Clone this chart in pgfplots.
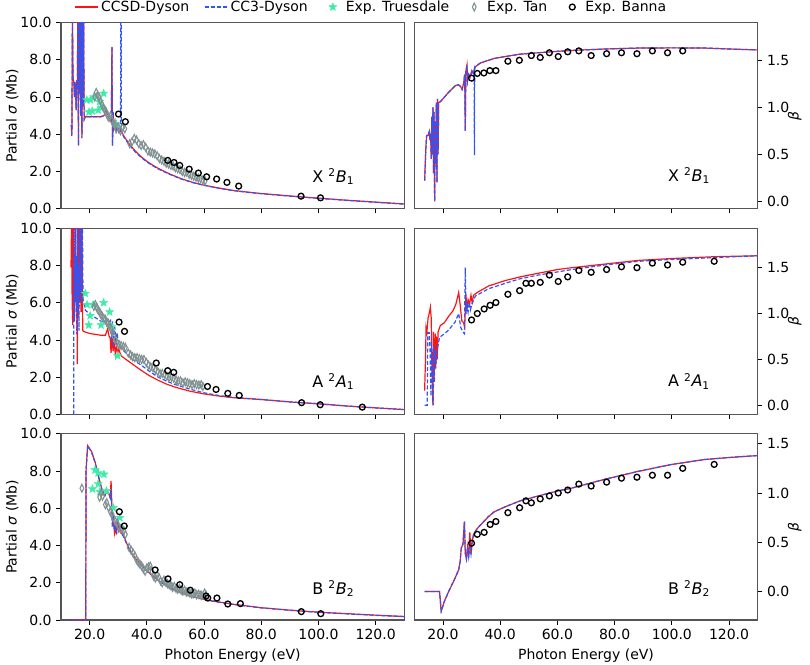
\documentclass[border=0pt]{standalone}
\usepackage{fontspec}
\setmainfont{DejaVu Sans}
\usepackage{pgfplots}
\pgfplotsset{compat=1.18}
\usepgfplotslibrary{groupplots}
\usetikzlibrary{plotmarks}
\definecolor{ccsd}{rgb}{1,0.08,0.08}
\definecolor{cc3}{rgb}{0.2,0.33,0.95}
\definecolor{trues}{RGB}{64,235,170}
\definecolor{tancol}{RGB}{128,145,145}
\definecolor{spine}{RGB}{85,85,85}
\pgfdeclareplotmark{fstar}{%
  \pgfpathmoveto{\pgfqpointpolar{90}{\pgfplotmarksize}}%
  \pgfpathlineto{\pgfqpointpolar{126}{0.42\pgfplotmarksize}}%
  \pgfpathlineto{\pgfqpointpolar{162}{\pgfplotmarksize}}%
  \pgfpathlineto{\pgfqpointpolar{198}{0.42\pgfplotmarksize}}%
  \pgfpathlineto{\pgfqpointpolar{234}{\pgfplotmarksize}}%
  \pgfpathlineto{\pgfqpointpolar{270}{0.42\pgfplotmarksize}}%
  \pgfpathlineto{\pgfqpointpolar{306}{\pgfplotmarksize}}%
  \pgfpathlineto{\pgfqpointpolar{342}{0.42\pgfplotmarksize}}%
  \pgfpathlineto{\pgfqpointpolar{18}{\pgfplotmarksize}}%
  \pgfpathlineto{\pgfqpointpolar{54}{0.42\pgfplotmarksize}}%
  \pgfpathclose
  \pgfusepathqfillstroke}
\pgfplotsset{
  every axis/.append style={font=\fontsize{10.5}{12.6}\selectfont},
  ccsdstyle/.style={ccsd, line width=0.9pt, no marks},
  cc3style/.style={cc3, line width=0.9pt, no marks, dash pattern=on 3pt off 1.6pt},
  mleg/.style={legend image code/.code={%
      \path (0cm,0cm) (0.53cm,0cm);
      \draw[mark repeat=2, mark phase=2, ##1] plot coordinates {(0cm,0cm)(0.265cm,0cm)(0.53cm,0cm)};}},
  truesstyle/.style={only marks, mleg, mark=fstar, mark size=3.2pt, mark options={fill=trues, draw=trues, line width=0.3pt}},
  tanstyle/.style={only marks, mleg, mark=diamond, mark size=3.0pt, mark options={draw=tancol, fill=none, line width=0.8pt, xscale=0.62}},
  bannastyle/.style={only marks, mleg, mark=o, mark size=2.2pt, mark options={draw=black, line width=1pt}},
  leftcol/.style={ymin=0, ymax=10, ytick={0,2,...,10}, ytick pos=left,
    ylabel={Partial \textit{σ} (Mb)},
    ylabel style={at={(axis description cs:-0.142,0.5)}, anchor=center}},
  rightcol/.style={ytick={0,0.5,1,1.5}, ytick pos=right,
    yticklabel pos=right, ylabel={\textit{β}},
    ylabel style={at={(axis description cs:1.108,0.5)}, anchor=center}},
}
\tikzset{panel/.style={font=\fontsize{12}{14}\selectfont}}
\begin{document}
\begin{tikzpicture}
\begin{groupplot}[
  group style={group size=2 by 3, horizontal sep=7.5pt, vertical sep=14.6pt,
    xlabels at=edge bottom, xticklabels at=edge bottom},
  width=257.5pt, height=139.6pt, scale only axis,
  xmin=10, xmax=130, xtick={20,40,...,120},
  tick align=outside, major tick length=3.5pt,
  axis line style={spine, line width=0.8pt},
  tick style={black, line width=0.6pt},
  /pgf/number format/fixed, /pgf/number format/fixed zerofill,
  /pgf/number format/precision=1, /pgf/number format/assume math mode=true,
  xlabel={Photon Energy (eV)},
  xtick pos=left,
  clip=true,
]
% ---------------- Row 1 left: X 2B1 sigma
\nextgroupplot[leftcol,
  legend style={at={(0.905,1.084)}, anchor=center, draw=none, fill=none,
    legend columns=5,
    /tikz/every even column/.append style={column sep=9pt}},
  legend cell align=left]
\coordinate (tl) at (rel axis cs:0,1);
\addplot[ccsdstyle] coordinates {(13.6,4.5)(13.8,3.9)(14.0,10.5)(14.2,7.0)(14.5,6.8)(14.7,6.0)(14.9,6.8)(15.1,6.3)(15.3,5.3)(15.5,6.9)(15.7,6.4)(15.9,10.5)(16.1,3.4)(16.3,10.5)(16.5,6.2)(16.7,10.5)(16.9,5.0)(17.1,10.5)(17.3,3.8)(17.5,10.5)(17.7,5.5)(17.9,10.5)(18.1,4.8)(18.5,4.95)(20,4.95)(22,4.95)(24,4.95)(25,5.0)(25.8,5.3)(26.3,5.1)(27,4.9)(27.6,4.7)(27.8,8.7)(28.0,3.4)(28.2,5.2)(28.5,4.4)(28.9,4.7)(29.3,4.2)(29.8,4.5)(30.3,4.1)(31,4.2)(32,3.9)(34,3.45)(36,3.1)(38,2.8)(40,2.55)(42,2.35)(44,2.17)(48,1.87)(52,1.62)(56,1.42)(60,1.27)(65,1.12)(70,0.99)(75,0.9)(80,0.82)(90,0.69)(100,0.57)(110,0.46)(120,0.36)(130,0.26)};
\addlegendentry{CCSD-Dyson}
\addplot[cc3style] coordinates {(13.6,4.5)(13.8,3.9)(14.0,10.5)(14.2,7.0)(14.5,6.8)(14.7,6.0)(14.9,6.8)(15.1,6.3)(15.3,5.3)(15.5,6.9)(15.7,6.4)(15.9,10.5)(16.1,3.4)(16.3,10.5)(16.5,6.2)(16.7,10.5)(16.9,5.0)(17.1,10.5)(17.3,3.8)(17.5,10.5)(17.7,5.5)(17.9,10.5)(18.1,4.8)(18.5,4.95)(20,4.95)(22,4.95)(24,4.95)(25,5.0)(25.8,5.3)(26.3,5.1)(27,4.9)(27.6,4.7)(27.8,8.7)(28.0,3.4)(28.2,5.2)(28.5,4.4)(28.9,4.7)(29.3,4.2)(29.8,4.5)(30.3,4.1)(30.8,4.2)(30.9,10.5)(31.05,10.5)(31.1,4.1)(32,3.85)(34,3.4)(36,3.05)(38,2.76)(40,2.52)(42,2.32)(44,2.14)(48,1.85)(52,1.6)(56,1.41)(60,1.26)(65,1.11)(70,0.98)(75,0.89)(80,0.81)(90,0.68)(100,0.56)(110,0.45)(120,0.35)(130,0.25)};
\addlegendentry{CC3-Dyson}
\addplot[truesstyle] coordinates {(19.0,5.85)(19.8,5.2)(20.3,5.85)(20.9,5.25)(21.4,6.0)(23.0,5.3)(23.5,5.75)(24.1,5.45)(24.9,6.2)(29.3,4.55)};
\addlegendentry{Exp. Truesdale}
\addplot[tanstyle] coordinates {(21.8,6.0)(22.3,6.25)(22.8,6.1)(23.3,6.0)(23.8,5.8)(24.3,5.6)(24.8,5.45)(25.3,5.3)(25.8,5.2)(26.3,5.0)(26.8,4.9)(27.3,5.0)(27.8,4.75)(28.3,4.6)(28.8,4.5)(29.3,4.3)(30.0,4.4)(30.8,4.2)(31.5,4.35)(32.3,4.3)(34.0,3.5)(34.8,3.6)(35.6,3.78)(36.4,3.7)(37.2,3.5)(38.0,3.4)(38.8,3.45)(39.6,3.3)(40.4,3.1)(41.2,3.05)(42.0,3.0)(42.8,2.95)(43.6,2.85)(44.4,2.7)(45.2,2.62)(46.0,2.55)(46.8,2.45)(47.6,2.4)(48.4,2.33)(49.2,2.3)(50.0,2.2)(50.8,2.15)(51.6,2.1)(52.4,2.0)(53.2,1.95)(54.0,1.95)(54.8,1.85)(55.6,1.8)(56.4,1.75)(57.2,1.7)(58.0,1.65)(58.8,1.62)(59.6,1.55)(60.4,1.5)};
\addlegendentry{Exp. Tan}
\addplot[bannastyle] coordinates {(30.1,5.09)(32.5,4.68)(47.3,2.60)(49.5,2.49)(51.5,2.33)(54.8,2.13)(58.0,1.92)(60.9,1.72)(64.4,1.60)(68.0,1.42)(72.1,1.22)(93.9,0.68)(100.7,0.59)};
\addlegendentry{Exp. Banna}
\node[panel] at (rel axis cs:0.793,0.172) {X \textsuperscript{2}\textit{B}\textsubscript{1}};
% ---------------- Row 1 right: X 2B1 beta
\nextgroupplot[rightcol, ymin=-0.08, ymax=1.9]
\addplot[ccsdstyle] coordinates {(13.6,0.22)(13.7,0.30)(14.0,0.55)(14.3,0.70)(14.8,0.70)(15.2,0.74)(15.5,0.65)(15.7,0.72)(15.9,0.45)(16.1,0.90)(16.3,0.5)(16.5,1.0)(16.7,0.3)(16.9,0.95)(17.1,0.0)(17.3,0.85)(17.5,0.4)(17.7,1.05)(17.9,0.2)(18.1,1.09)(18.3,0.5)(18.5,1.05)(19.1,1.06)(20,1.09)(22,1.16)(24.3,1.23)(25.4,1.24)(26.2,1.22)(26.7,1.19)(27.2,1.25)(27.6,1.35)(27.8,0.75)(28.0,1.38)(28.4,1.45)(28.6,1.28)(29,1.35)(29.5,1.32)(30.1,1.39)(30.6,1.36)(31.3,1.43)(33,1.47)(35.9,1.5)(38,1.52)(41.8,1.54)(47,1.565)(53.4,1.58)(60,1.595)(65.1,1.605)(76.7,1.62)(88.3,1.63)(100,1.632)(111.6,1.63)(120,1.62)(130,1.61)};
\addplot[cc3style] coordinates {(13.6,0.22)(13.7,0.30)(14.0,0.55)(14.3,0.70)(14.8,0.70)(15.2,0.74)(15.5,0.65)(15.7,0.72)(15.9,0.45)(16.1,0.90)(16.3,0.5)(16.5,1.0)(16.7,0.3)(16.9,0.95)(17.1,0.0)(17.3,0.85)(17.5,0.4)(17.7,1.05)(17.9,0.2)(18.1,1.09)(18.3,0.5)(18.5,1.05)(19.1,1.06)(20,1.09)(22,1.16)(24.3,1.23)(25.4,1.24)(26.2,1.22)(26.7,1.19)(27.2,1.25)(27.6,1.35)(27.8,0.75)(28.0,1.38)(28.4,1.45)(28.6,1.28)(29,1.35)(29.5,1.32)(30.1,1.39)(30.6,1.36)(30.9,1.40)(31.0,0.49)(31.1,1.42)(31.3,1.43)(33,1.47)(35.9,1.5)(38,1.52)(41.8,1.54)(47,1.565)(53.4,1.58)(60,1.595)(65.1,1.605)(76.7,1.62)(88.3,1.63)(100,1.632)(111.6,1.63)(120,1.62)(130,1.61)};
\addplot[bannastyle] coordinates {(30.0,1.31)(32.0,1.36)(34.3,1.365)(36.4,1.39)(38.5,1.39)(42.7,1.49)(46.7,1.50)(50.9,1.55)(54.0,1.53)(57.2,1.58)(60.3,1.54)(63.6,1.59)(67.5,1.60)(71.8,1.55)(77.2,1.57)(82.4,1.58)(87.8,1.57)(93.2,1.60)(98.5,1.58)(103.8,1.60)};
\node[panel] at (rel axis cs:0.80,0.177) {X \textsuperscript{2}\textit{B}\textsubscript{1}};
% ---------------- Row 2 left: A 2A1 sigma
\nextgroupplot[leftcol]
\addplot[ccsdstyle] coordinates {(13.5,7.9)(13.7,10.5)(13.9,6.0)(14.1,4.8)(14.3,10.5)(14.5,5.0)(14.7,7.5)(14.9,6.3)(15.1,10.5)(15.3,5.5)(15.5,8.0)(15.7,2.7)(15.9,10.5)(16.1,5.2)(16.3,10.5)(16.5,6.0)(16.8,10.5)(17.0,5.5)(17.3,10.5)(17.6,4.5)(18,4.45)(20,4.35)(22,4.3)(24,4.25)(25.5,4.25)(26.3,4.6)(26.8,4.2)(27.2,4.1)(27.5,3.3)(27.8,4.2)(28.2,3.4)(28.6,3.9)(29.0,3.2)(29.4,3.7)(29.8,3.3)(30.2,3.5)(31,3.15)(32.3,3.0)(35,2.7)(38,2.37)(41,2.07)(44,1.83)(47,1.62)(50,1.46)(55,1.25)(60,1.1)(65,0.99)(70,0.9)(80,0.8)(90,0.67)(100,0.57)(110,0.45)(120,0.35)(130,0.26)};
\addplot[cc3style] coordinates {(14.45,0)(14.5,10.5)(14.7,5.0)(14.9,10.5)(15.1,6.0)(15.3,8.5)(15.5,4.3)(15.7,10.5)(15.9,5.5)(16.1,8.0)(16.3,4.5)(16.5,10.5)(16.7,6.5)(17.0,10.5)(17.2,6.0)(17.5,10.5)(17.7,6.2)(18.5,5.6)(20,5.4)(22,5.2)(24,5.0)(25.5,4.95)(26.3,5.2)(26.8,4.6)(27.3,5.1)(27.6,4.0)(28,5.0)(28.4,3.6)(28.8,4.7)(29.2,3.8)(29.6,4.4)(30.2,3.7)(31.1,3.55)(33,3.25)(35,2.95)(38.2,2.63)(41,2.3)(44,2.0)(47,1.78)(50,1.6)(55,1.36)(60,1.16)(65,1.02)(70,0.92)(80,0.8)(90,0.67)(100,0.57)(110,0.45)(120,0.35)(130,0.26)};
\addplot[truesstyle] coordinates {(18.5,6.5)(19.1,5.9)(19.7,4.8)(20.2,5.3)(21.2,5.9)(24.0,4.8)(24.9,6.0)(27.0,5.5)(27.8,4.7)(29.8,3.15)};
\addplot[tanstyle] coordinates {(21.5,5.8)(22.0,5.9)(22.5,5.75)(23.0,5.6)(23.5,5.5)(24.0,5.35)(24.5,5.25)(25.0,5.15)(25.5,5.1)(26.0,4.95)(26.5,4.9)(27.0,4.75)(27.5,4.6)(28.0,4.4)(28.5,4.2)(29.0,4.0)(29.6,3.85)(30.3,3.75)(31.0,3.7)(31.8,3.65)(32.5,3.6)(33.5,3.3)(34.3,3.2)(35.0,3.1)(35.8,3.05)(36.6,3.05)(37.4,3.0)(38.2,2.95)(39.0,2.95)(39.8,2.8)(40.6,2.65)(41.4,2.55)(42.2,2.5)(43.0,2.4)(43.8,2.3)(44.6,2.2)(45.4,2.2)(46.2,2.15)(47.0,2.05)(47.8,2.0)(48.6,2.0)(49.4,1.95)(50.2,1.85)(51.0,1.8)(51.8,1.8)(52.6,1.7)(53.4,1.75)(54.2,1.7)(55.0,1.65)(55.8,1.6)(56.6,1.65)(57.4,1.6)(58.2,1.58)(59.0,1.6)(59.6,1.5)};
\addplot[bannastyle] coordinates {(30.3,4.96)(32.2,4.46)(43.3,2.76)(47.3,2.35)(49.4,2.26)(61.2,1.5)(64.2,1.34)(68.3,1.13)(72.3,1.02)(94.1,0.63)(100.6,0.52)(115.3,0.39)};
\node[panel] at (rel axis cs:0.793,0.176) {A \textsuperscript{2}\textit{A}\textsubscript{1}};
% ---------------- Row 2 right: A 2A1 beta
\nextgroupplot[rightcol, ymin=-0.1, ymax=1.93]
\addplot[ccsdstyle] coordinates {(13.6,0.16)(13.9,0.5)(14.1,0.85)(14.4,0.80)(14.8,0.95)(15.2,1.0)(15.6,1.07)(15.9,0.95)(16.1,0.5)(16.3,0.2)(16.5,0.0)(16.7,0.8)(16.9,0.3)(17.1,0.55)(17.3,0.78)(17.5,0.4)(17.7,0.75)(18.0,0.5)(18.3,0.8)(19.1,0.87)(20.5,0.9)(22,0.97)(23.5,1.03)(24.5,1.1)(25.5,1.23)(26.0,1.1)(26.6,0.92)(27.2,0.9)(27.6,0.85)(28.0,1.21)(28.4,1.05)(28.8,1.15)(29.3,1.1)(29.8,1.2)(30.2,1.12)(30.7,1.2)(32,1.23)(35.9,1.30)(41.8,1.36)(47,1.40)(53.4,1.44)(60,1.48)(65.1,1.50)(76.7,1.54)(88.4,1.58)(100,1.60)(115,1.62)(130,1.63)};
\addplot[cc3style] coordinates {(13.6,0.0)(14.5,0.0)(14.7,0.79)(15.2,0.79)(15.5,0.6)(15.8,0.1)(16.0,0.7)(16.3,0.3)(16.6,0.0)(16.8,0.65)(17.0,0.25)(17.3,0.6)(17.6,0.45)(18.0,0.6)(18.8,0.74)(20.5,0.78)(22,0.82)(24.3,0.91)(25.5,1.0)(26.2,0.85)(27.0,0.8)(27.5,0.78)(27.8,1.5)(28.1,1.0)(28.5,1.1)(28.8,1.02)(29.2,1.12)(29.6,1.04)(30.1,1.1)(31.3,1.19)(35.9,1.27)(41.8,1.33)(47,1.38)(53.4,1.42)(65.1,1.48)(76.7,1.53)(88.4,1.57)(100,1.59)(115,1.61)(130,1.63)};
\addplot[bannastyle] coordinates {(30,0.93)(32,1.0)(34.4,1.05)(36.5,1.09)(38.5,1.12)(42.7,1.21)(46.8,1.25)(49.0,1.33)(50.9,1.33)(54.0,1.34)(57.2,1.42)(60.3,1.35)(63.6,1.40)(67.5,1.47)(71.8,1.45)(77.2,1.48)(82.4,1.51)(87.8,1.50)(93.2,1.55)(98.5,1.53)(103.8,1.56)(114.8,1.57)};
\node[panel] at (rel axis cs:0.80,0.178) {A \textsuperscript{2}\textit{A}\textsubscript{1}};
% ---------------- Row 3 left: B 2B2 sigma
\nextgroupplot[leftcol]
\addplot[ccsdstyle] coordinates {(13.6,0)(18.65,0)(18.75,8.0)(19.3,9.37)(20,9.2)(20.7,9.05)(21.9,8.5)(23.0,7.79)(24.2,7.07)(25.3,6.7)(26.0,6.9)(26.5,6.85)(27.2,6.6)(27.5,7.47)(27.9,5.64)(28.3,5.3)(28.7,4.7)(29.0,5.1)(29.3,4.6)(29.7,5.3)(30.1,4.8)(30.5,5.0)(31,4.7)(31.8,4.56)(33.5,3.93)(35,3.5)(37,3.12)(40.5,2.58)(44,2.14)(47,1.83)(49.9,1.6)(55.7,1.28)(61.5,1.06)(65,0.97)(70,0.85)(80,0.66)(90,0.53)(100,0.42)(110,0.34)(120,0.26)(130,0.19)};
\addplot[cc3style] coordinates {(13.6,0)(18.65,0)(18.75,8.0)(19.3,9.35)(20,9.2)(20.7,9.0)(21.9,8.45)(23.0,7.75)(24.2,7.05)(25.3,6.65)(26.0,6.85)(26.5,6.8)(27.2,6.55)(27.5,7.0)(27.9,5.0)(28.3,5.6)(28.7,4.8)(29.1,5.0)(29.5,4.7)(30.0,5.2)(30.5,4.8)(31,4.65)(31.8,4.5)(33.5,3.9)(35,3.47)(37,3.1)(40.5,2.55)(44,2.12)(47,1.81)(49.9,1.58)(55.7,1.27)(61.5,1.05)(65,0.96)(70,0.84)(80,0.65)(90,0.52)(100,0.41)(110,0.33)(120,0.25)(130,0.18)};
\addplot[truesstyle] coordinates {(21.0,7.04)(21.9,8.06)(23.0,7.31)(23.0,7.9)(23.6,6.89)(25.0,7.83)(25.9,6.93)(28.3,6.03)(30.6,5.49)};
\addplot[tanstyle] coordinates {(17.3,7.08)(23.5,6.6)(24.0,6.8)(24.5,6.65)(25.5,6.2)(26.0,6.3)(26.6,6.05)(27.3,5.8)(27.8,5.7)(28.3,5.5)(29.0,5.3)(29.6,5.2)(30.2,5.0)(30.8,4.9)(31.4,4.9)(32.0,4.8)(32.5,4.6)(33.8,3.9)(34.5,3.75)(35.2,3.6)(35.8,3.45)(36.4,3.25)(37.0,3.1)(37.6,3.0)(38.2,2.9)(38.8,2.75)(39.4,2.62)(40.0,2.8)(40.6,2.85)(41.2,2.9)(41.8,2.6)(42.4,2.35)(43.0,2.25)(43.6,2.4)(44.2,2.3)(44.8,2.1)(45.4,2.0)(46.0,2.15)(46.6,2.05)(47.2,1.95)(47.8,1.9)(48.4,1.85)(49.0,1.75)(49.6,1.8)(50.2,1.7)(50.8,1.65)(51.4,1.7)(52.0,1.6)(52.6,1.55)(53.2,1.6)(53.8,1.5)(54.4,1.5)(55.0,1.45)(55.6,1.4)(56.2,1.4)(56.8,1.45)(57.4,1.35)(58.0,1.38)(58.6,1.35)(59.2,1.32)(60.2,1.45)(60.6,1.35)};
\addplot[bannastyle] coordinates {(30.4,5.82)(32.1,5.05)(42.9,2.69)(47.4,2.21)(51.5,1.9)(55.2,1.6)(60.7,1.29)(61.3,1.18)(64.5,1.18)(68.3,0.86)(72.7,0.88)(94,0.45)(100.8,0.34)};
\node[panel] at (rel axis cs:0.793,0.17) {B \textsuperscript{2}\textit{B}\textsubscript{2}};
% ---------------- Row 3 right: B 2B2 beta
\nextgroupplot[rightcol, ymin=-0.29, ymax=1.6]
\addplot[ccsdstyle] coordinates {(13.6,0)(18.8,0)(19.4,-0.2)(20.5,-0.1)(22,0.0)(24,0.12)(25.5,0.22)(26.0,0.3)(26.4,0.44)(27.0,0.48)(27.5,0.71)(27.8,0.39)(28.2,0.33)(28.6,0.45)(29.0,0.35)(29.4,0.60)(29.8,0.38)(30.2,0.5)(30.7,0.58)(32,0.64)(35.9,0.76)(38,0.81)(41.8,0.86)(47,0.92)(53.4,0.97)(60,1.02)(65.1,1.05)(76.7,1.14)(88.3,1.22)(100,1.29)(111.6,1.34)(120,1.36)(130,1.38)};
\addplot[cc3style] coordinates {(13.6,0)(18.8,0)(19.4,-0.2)(20.5,-0.1)(22,0.0)(24,0.12)(25.5,0.22)(26.0,0.3)(26.4,0.44)(27.0,0.48)(27.5,0.71)(27.8,0.39)(28.2,0.33)(28.6,0.45)(29.0,0.35)(29.4,0.45)(29.8,0.38)(30.2,0.5)(30.7,0.58)(32,0.64)(35.9,0.76)(38,0.81)(41.8,0.86)(47,0.92)(53.4,0.97)(60,1.02)(65.1,1.05)(76.7,1.14)(88.3,1.22)(100,1.29)(111.6,1.34)(120,1.36)(130,1.38)};
\addplot[bannastyle] coordinates {(30,0.49)(32,0.58)(34.4,0.60)(36.5,0.68)(38.5,0.71)(42.7,0.80)(46.8,0.85)(49.0,0.92)(50.9,0.90)(54,0.94)(57.2,0.97)(60.3,1.0)(63.6,1.03)(67.5,1.09)(71.8,1.07)(77.2,1.11)(82.4,1.15)(87.8,1.16)(93.2,1.18)(98.5,1.18)(103.8,1.25)(114.8,1.29)};
\node[panel] at (rel axis cs:0.80,0.17) {B \textsuperscript{2}\textit{B}\textsubscript{2}};
\end{groupplot}
\pgfresetboundingbox
\path[use as bounding box] ([shift={(-45.75pt,17pt)}]tl) rectangle ([shift={(561.75pt,-481.7pt)}]tl);
\end{tikzpicture}
\end{document}
